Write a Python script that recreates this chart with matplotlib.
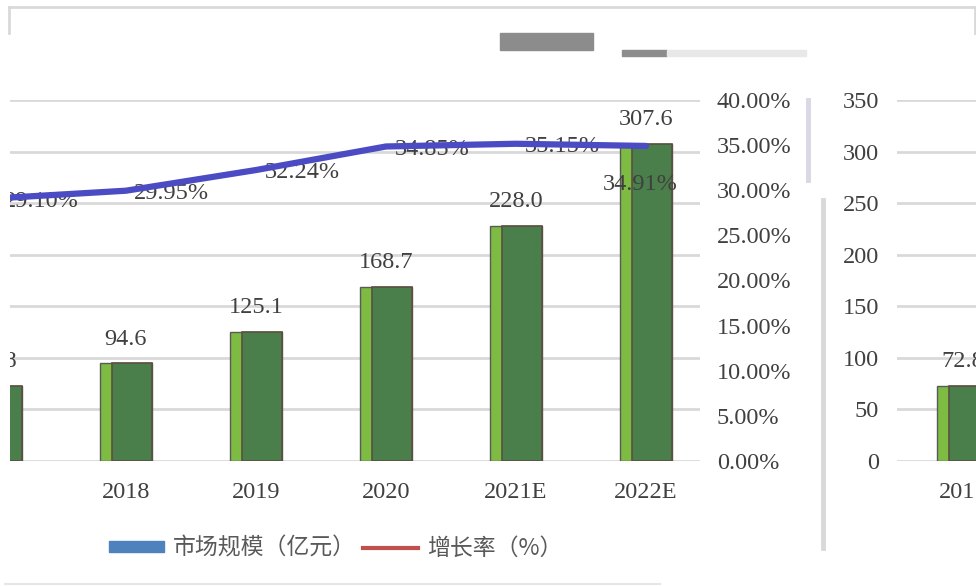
import matplotlib.pyplot as plt
import numpy as np
from matplotlib.patches import Patch, Rectangle
from matplotlib.lines import Line2D

# data
years = ['2017', '2018', '2019', '2020', '2021E', '2022E']
market_size = [72.8, 94.6, 125.1, 168.7, 228.0, 307.6]      # 亿元
growth_rate = [29.10, 29.95, 32.24, 34.85, 35.15, 34.91]     # %
size_ticks = [0, 50, 100, 150, 200, 250, 300, 350]
pct_ticks = [0, 5, 10, 15, 20, 25, 30, 35, 40]
legend_labels = ['市场规模（亿元）', '增长率（%）']

W, H = 976, 586
serif = ['Liberation Serif', 'DejaVu Serif']
cjk = ['Noto Sans CJK SC', 'DejaVu Sans']
txt_col = '#404040'
grid_col = '#D9D9D9'
light_green = '#7DBB42'
dark_green = '#4A7E4B'
line_col = '#4B4BC3'
fs = 17.5

def fx(px):
    return px / W

def fy(py):
    return 1 - py / H

fig = plt.figure(figsize=(W / 100, H / 100), dpi=100)

x = np.arange(len(years))

def draw_bars(ax):
    ax.bar(x, market_size, width=0.4, color=light_green, edgecolor='#595959', linewidth=1, zorder=2)
    ax.bar(x + 0.045, market_size, width=0.31, color=dark_green, edgecolor='#5B5040', linewidth=1.2, zorder=3)
    for xi, v in zip(x, market_size):
        ax.annotate(f'{v:.1f}', (xi, v), xytext=(0, 10), textcoords='offset points',
                    ha='center', va='bottom', fontsize=fs, family=serif, color=txt_col,
                    annotation_clip=False, clip_on=True)
    ax.set_ylim(0, 350)
    ax.set_yticks(size_ticks)
    ax.yaxis.grid(True, color=grid_col, linewidth=2)
    ax.set_axisbelow(True)
    ax.set_xticks(x)
    ax.set_xticklabels(years, family=serif, fontsize=fs, color=txt_col)
    ax.tick_params(axis='x', length=0, pad=15)
    ax.tick_params(axis='y', which='both', length=0, width=0)
    for s in ax.spines.values():
        s.set_visible(False)

# main chart (left part)
ax = fig.add_axes([fx(10), fy(461), fx(690), 361 / H])
draw_bars(ax)
ax.set_xlim(0.108, 5.415)
ax.tick_params(axis='y', which='both', left=False, right=False, labelleft=False)

ax2 = ax.twinx()
ax2.plot(x, growth_rate, color=line_col, linewidth=4.5, solid_capstyle='round', zorder=5)
ax2.set_ylim(0, 40)
ax2.set_yticks(pct_ticks)
ax2.set_yticklabels([f'{t:.2f}%' for t in pct_ticks], family=serif, fontsize=fs, color=txt_col)
ax2.tick_params(axis='y', which='both', length=0, width=0, pad=12)
for s in ax2.spines.values():
    s.set_visible(False)
for i, (xi, v) in enumerate(zip(x, growth_rate)):
    if i == len(x) - 1:
        ax2.annotate(f'{v:.2f}%', (xi, v), xytext=(-4, -20), textcoords='offset points',
                     ha='center', va='top', fontsize=fs, family=serif, color=txt_col)
    else:
        ax2.annotate(f'{v:.2f}%', (xi, v), xytext=(6, -2), textcoords='offset points',
                     ha='left', va='center', fontsize=fs, family=serif, color=txt_col,
                     annotation_clip=False, clip_on=True)

# second copy of the chart on the right edge
ax3 = fig.add_axes([fx(897), fy(461), fx(W - 897), 361 / H])
draw_bars(ax3)
ax3.set_xlim(-0.508, 0.1)
ax3.set_yticklabels([str(t) for t in size_ticks], family=serif, fontsize=fs, color=txt_col)
ax3.tick_params(axis='y', length=0, pad=13)

# legend
handles = [Patch(color='#4F81BD'), Line2D([], [], color='#C0504D', linewidth=3)]
fig.legend(handles, legend_labels, loc='center left', bbox_to_anchor=(fx(88), fy(548)),
           ncol=2, frameon=False, handlelength=2.4, handleheight=0.35,
           columnspacing=0.3, handletextpad=0.4, labelcolor='#595959',
           prop={'family': cjk, 'size': 16.5})

# frame pieces and separators
fig.add_artist(Line2D([fx(9), fx(975)], [fy(7), fy(7)], color='#D9D9D9', linewidth=2))
fig.add_artist(Line2D([fx(9), fx(9)], [fy(7), fy(33)], color='#D9D9D9', linewidth=2))
fig.add_artist(Line2D([fx(975), fx(975)], [fy(7), fy(33)], color='#D9D9D9', linewidth=2))
fig.add_artist(Line2D([fx(5), fx(660)], [fy(584), fy(584)], color='#E6E6E6', linewidth=1.5))
fig.add_artist(Line2D([fx(808), fx(808)], [fy(100), fy(180)], color='#D8D8E6', linewidth=3.5))
fig.add_artist(Line2D([fx(823), fx(823)], [fy(200), fy(548)], color='#D9D9D9', linewidth=3.5))
fig.add_artist(Rectangle((fx(500), fy(50)), fx(93), 17 / H, color='#8C8C8C'))
fig.add_artist(Rectangle((fx(622), fy(56)), fx(45), 6 / H, color='#8C8C8C'))
fig.add_artist(Rectangle((fx(667), fy(56)), fx(139), 6 / H, color='#E8E8E8'))

fig.savefig('out.png', dpi=100)
